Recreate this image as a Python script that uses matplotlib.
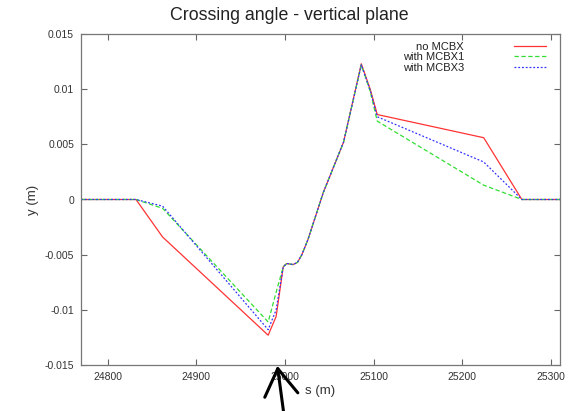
import matplotlib
matplotlib.use('Agg')
import matplotlib.pyplot as plt

# positions along the ring (m)
s = [24770, 24832, 24862, 24981, 24990, 24998, 25002, 25009, 25014,
     25019, 25026, 25043, 25066, 25086, 25096, 25104, 25224, 25267, 25310]

# vertical orbit (m)
y_no_mcbx = [0, 0, -0.0034, -0.0123, -0.0106, -0.0061, -0.0058, -0.0059, -0.0057,
             -0.0050, -0.0036, 0.0006, 0.0052, 0.0123, 0.0100, 0.0077, 0.0056, 0, 0]
y_mcbx1 = [0, 0, -0.0008, -0.0111, -0.0084, -0.0061, -0.0058, -0.0059, -0.0057,
           -0.0050, -0.0036, 0.0006, 0.0052, 0.0122, 0.0098, 0.0071, 0.0013, 0, 0]
y_mcbx3 = [0, 0, -0.0006, -0.0118, -0.0100, -0.0061, -0.0058, -0.0059, -0.0057,
           -0.0050, -0.0036, 0.0006, 0.0052, 0.0122, 0.0099, 0.0075, 0.0034, 0, 0]

x_ticks = [24800, 24900, 25000, 25100, 25200, 25300]
y_ticks = [-0.015, -0.01, -0.005, 0, 0.005, 0.01, 0.015]
y_tick_labels = ['-0.015', '-0.01', '-0.005', '0', '0.005', '0.01', '0.015']

plt.rcParams['font.family'] = ['Liberation Sans', 'DejaVu Sans']

fig = plt.figure(figsize=(5.78, 4.11), dpi=100)
ax = fig.add_axes([81 / 578, 1 - 365 / 411, (560 - 81) / 578, (365 - 34) / 411])

ax.plot(s, y_no_mcbx, color='#ff3333', lw=0.9, label='no MCBX')
ax.plot(s, y_mcbx1, color='#33dd33', lw=0.9, dashes=(3.5, 2), label='with MCBX1')
ax.plot(s, y_mcbx3, color='#3333ff', lw=0.9, dashes=(1.5, 1.5), label='with MCBX3')

ax.set_xlim(24770, 25310)
ax.set_ylim(-0.015, 0.015)
ax.set_xticks(x_ticks)
ax.set_yticks(y_ticks)
ax.set_yticklabels(y_tick_labels)
ax.tick_params(direction='in', top=True, right=True, length=4, width=0.8,
               color='#666666', labelsize=7.5, labelcolor='#333333', pad=5)
for sp in ax.spines.values():
    sp.set_color('#777777')
    sp.set_linewidth(0.9)

fig.text(0.5, 1 - 16 / 411, 'Crossing angle - vertical plane', fontsize=12.8,
         color='#222222', ha='center', va='center')
ax.set_xlabel('s (m)', fontsize=9.5, color='#333333', labelpad=2)
ax.set_ylabel('y (m)', fontsize=9.5, color='#333333', labelpad=4)

leg = ax.legend(loc='upper right', bbox_to_anchor=(0.985, 0.997), frameon=False,
                markerfirst=False, fontsize=8, handlelength=2.9, handletextpad=4.5,
                labelspacing=0.05, borderaxespad=0.2)
for t in leg.get_texts():
    t.set_color('#222222')

# arrow pointing at the axis below the minimum
fig.add_artist(matplotlib.patches.FancyArrowPatch(
    (284 / 578, -0.01), (277 / 578, 1 - 363 / 411), transform=fig.transFigure,
    arrowstyle='->,head_length=0.8,head_width=0.5', mutation_scale=24,
    lw=2.2, color='black'))

fig.savefig('out.png', dpi=100)
